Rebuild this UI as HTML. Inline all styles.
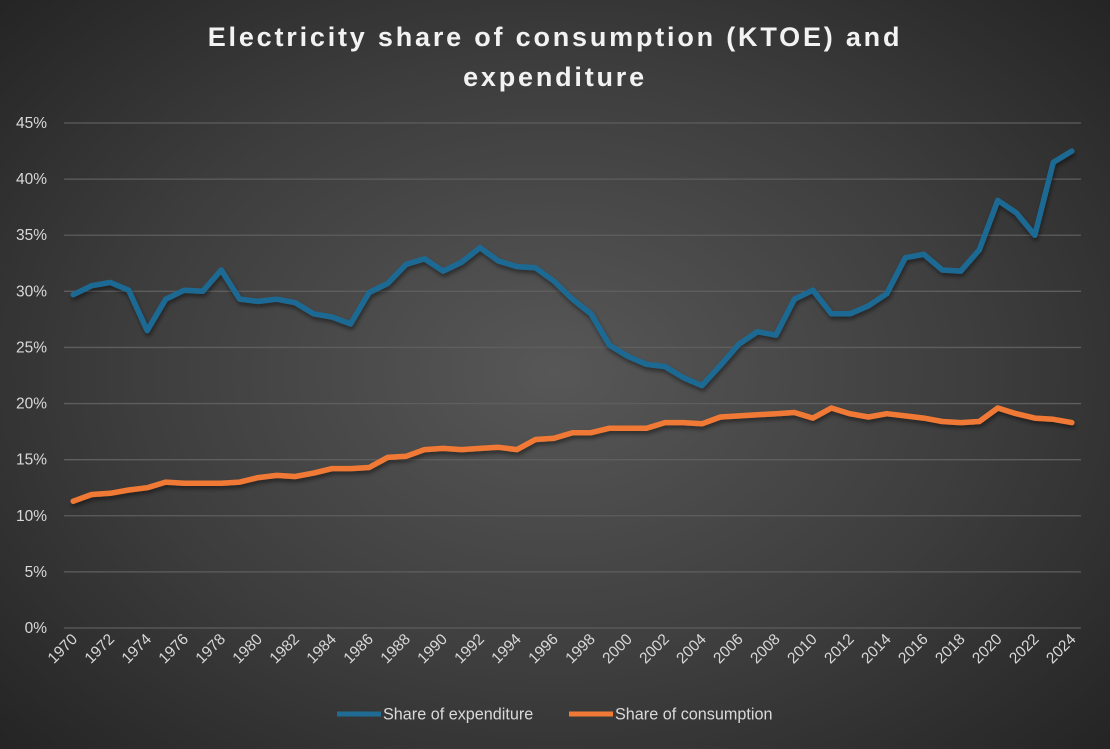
<!DOCTYPE html>
<html><head><meta charset="utf-8"><style>
html,body{margin:0;padding:0;}
body{width:1110px;height:744px;overflow:hidden;background:radial-gradient(ellipse 70% 75% at 50% 50%,#575757 0%,#3d3d3d 55%,#232323 100%);font-family:"Liberation Sans",sans-serif;}
</style></head><body>
<svg id="chart" width="1110" height="744" xmlns="http://www.w3.org/2000/svg">
<defs><filter id="sh" x="-5%" y="-5%" width="110%" height="120%"><feDropShadow dx="1" dy="3" stdDeviation="2" flood-color="#000" flood-opacity="0.45"/></filter></defs>
<text x="555" y="46" text-anchor="middle" fill="#f2f2f2" font-size="27" font-weight="bold" letter-spacing="2.8">Electricity share of consumption (KTOE) and</text>
<text x="555" y="86" text-anchor="middle" fill="#f2f2f2" font-size="27" font-weight="bold" letter-spacing="2.8">expenditure</text>
<g id="grid"></g><g id="yt"></g><g id="xt"></g><g id="lines"></g>
<g>
<line x1="337" y1="714" x2="381" y2="714" stroke="#1f6b94" stroke-width="5"/>
<text x="383" y="719.5" fill="#d9d9d9" font-size="16.2">Share of expenditure</text>
<line x1="569" y1="714" x2="613" y2="714" stroke="#f07a35" stroke-width="5"/>
<text x="615" y="719.5" fill="#d9d9d9" font-size="16.2">Share of consumption</text>
</g>
</svg>
<script>
const years=[];for(let y=1970;y<=2024;y++)years.push(y);
const expenditure=[29.7,30.5,30.8,30.1,26.5,29.3,30.1,30.0,31.9,29.3,29.1,29.3,29.0,28.0,27.7,27.1,29.9,30.7,32.4,32.9,31.8,32.6,33.9,32.7,32.2,32.1,30.9,29.3,28.0,25.2,24.2,23.5,23.3,22.3,21.6,23.4,25.3,26.4,26.1,29.3,30.1,28.0,28.0,28.7,29.8,33.0,33.3,31.9,31.8,33.7,38.1,37.0,35.0,41.5,42.5];
const consumption=[11.3,11.9,12.0,12.3,12.5,13.0,12.9,12.9,12.9,13.0,13.4,13.6,13.5,13.8,14.2,14.2,14.3,15.2,15.3,15.9,16.0,15.9,16.0,16.1,15.9,16.8,16.9,17.4,17.4,17.8,17.8,17.8,18.3,18.3,18.2,18.8,18.9,19.0,19.1,19.2,18.7,19.6,19.1,18.8,19.1,18.9,18.7,18.4,18.3,18.4,19.6,19.1,18.7,18.6,18.3];
const yTicks=[0,5,10,15,20,25,30,35,40,45];
const NS="http://www.w3.org/2000/svg";
const X0=64,X1=1081,Y0=628,Y1=123;
const xs=i=>X0+(X1-X0)*(i+0.5)/years.length;
const ys=v=>Y0-(Y0-Y1)*v/45;
function mk(t,a,p){const e=document.createElementNS(NS,t);for(const k in a)e.setAttribute(k,a[k]);p.appendChild(e);return e;}
const g=document.getElementById('grid'),yt=document.getElementById('yt'),xt=document.getElementById('xt'),L=document.getElementById('lines');
yTicks.forEach(v=>{
 const l=mk('line',{x1:X0,x2:X1,y1:ys(v),y2:ys(v),stroke:'#5e5e5e','stroke-width':1.3},g);
 
 
 const t=mk('text',{x:47,y:ys(v)+5,'text-anchor':'end',fill:'#d9d9d9','font-size':15.5},yt);
 
 
 t.textContent=v+'%';
});
years.forEach((y,i)=>{if(y%2)return;
 const x=xs(i)+5,yy=640;
 const t=mk('text',{x:x,y:yy,'text-anchor':'end',fill:'#d9d9d9','font-size':15.5,transform:`rotate(-45 ${x} ${yy})`},xt);
 
 
 t.textContent=y;
});
function line(d,c,n){
 const p=mk('polyline',{points:d.map((v,i)=>xs(i).toFixed(1)+','+ys(v).toFixed(1)).join(' '),fill:'none',stroke:c,'stroke-width':5.5,'stroke-linejoin':'round','stroke-linecap':'round',filter:'url(#sh)'},L);
 
 
}
line(expenditure,'#1f6b94','expenditure-line');
line(consumption,'#f07a35','consumption-line');
</script>
</body></html>
